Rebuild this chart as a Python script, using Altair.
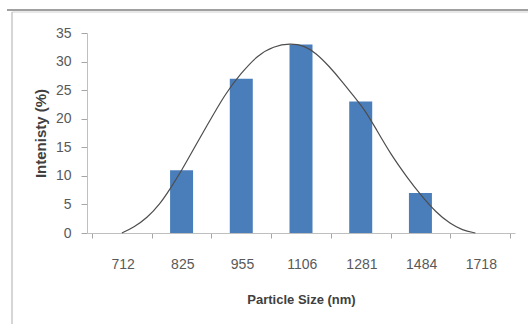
import altair as alt
import pandas as pd

# Particle size classes (nm) and measured intensity (%)
sizes = ["712", "825", "955", "1106", "1281", "1484", "1718"]
intensity = [0, 11, 27, 33, 23, 7, 0]

# Fitted distribution curve, position in class units and intensity (%)
curve_pos = [0.0, 0.2, 0.42, 0.64, 0.8, 1.0, 1.2, 1.4, 1.73, 2.0, 2.27, 2.54, 2.82,
             3.05, 3.25, 3.47, 3.69, 3.91, 4.07, 4.23, 4.5, 4.78, 5.0, 5.27, 5.5,
             5.7, 5.92]
curve_val = [0.0, 1.0, 2.6, 5.1, 7.6, 10.9, 14.7, 18.3, 24.4, 28.0, 31.1, 32.7, 33.2,
             32.8, 31.5, 29.2, 26.5, 23.6, 21.5, 18.7, 13.8, 9.7, 6.7, 3.5, 1.6,
             0.5, 0.0]

# Class boundaries used as tick positions
bounds = [i - 0.5 for i in range(len(sizes) + 1)]
y_ticks = [0, 5, 10, 15, 20, 25, 30, 35]

bars_df = pd.DataFrame({"pos": list(range(len(sizes))), "size": sizes, "intensity": intensity})
curve_df = pd.DataFrame({"pos": curve_pos, "intensity": curve_val})

W, H = 428, 200
step = W / len(sizes)

label_font = "Liberation Sans, sans-serif"
label_list = ",".join("'%s'" % s for s in sizes)

x_scale = alt.Scale(domain=[-0.5, len(sizes) - 0.5], nice=False, zero=False)
y_scale = alt.Scale(domain=[0, 35], nice=False)

x_axis = alt.Axis(
    values=bounds,
    labelExpr="[" + label_list + "][datum.value + 0.5] || ''",
    labelOffset=step / 2,
    labelFlush=False,
    labelOverlap=False,
    labelFont=label_font,
    labelFontSize=14,
    labelColor="#595959",
    labelPadding=19,
    tickSize=5,
    tickColor="#a6a6a6",
    domainColor="#bfbfbf",
    grid=False,
    title="Particle Size (nm)",
    titleFont=label_font,
    titleFontSize=13,
    titleFontWeight="bold",
    titleColor="#404040",
    titleY=66,
    titleBaseline="middle",
)

y_axis = alt.Axis(
    values=y_ticks,
    tickCount=8,
    labelOverlap=False,
    labelFlush=False,
    labelFont=label_font,
    labelFontSize=14,
    labelColor="#595959",
    labelPadding=10,
    tickSize=6,
    tickColor="#a6a6a6",
    domainColor="#bfbfbf",
    grid=False,
    title="Intenisty (%)",
    titleFont=label_font,
    titleFontSize=15,
    titleFontWeight="bold",
    titleColor="#404040",
    titleAngle=-90,
    titleX=-47,
    titleY=H / 2,
    titleAlign="center",
    titleBaseline="middle",
)

bars = alt.Chart(bars_df).mark_bar(size=23, orient="vertical", color="#4A7EBB").encode(
    x=alt.X("pos:Q", scale=x_scale, axis=x_axis),
    y=alt.Y("intensity:Q", scale=y_scale, axis=y_axis),
)

curve = alt.Chart(curve_df).mark_line(
    interpolate="basis", color="#4d4d4d", strokeWidth=1.2
).encode(
    x=alt.X("pos:Q", scale=x_scale, axis=x_axis),
    y=alt.Y("intensity:Q", scale=y_scale, axis=y_axis),
)

# Outer frame of the figure
one = alt.Data(values=[{}])
frame_left = alt.Chart(one).mark_rule(color="#c8c8c8", strokeWidth=1.5).encode(
    x=alt.value(-75), y=alt.value(-21), y2=alt.value(H + 95)
)
frame_top = alt.Chart(one).mark_rule(color="#a0a0a0", strokeWidth=2).encode(
    x=alt.value(-80), x2=alt.value(W + 20), y=alt.value(-23)
)
frame_top_inner = alt.Chart(one).mark_rule(color="#d0d0d0", strokeWidth=1).encode(
    x=alt.value(-75), x2=alt.value(W + 20), y=alt.value(-21)
)

chart = alt.layer(bars, curve, frame_top, frame_top_inner, frame_left).properties(
    width=W,
    height=H,
    padding={"left": 87, "top": 33, "right": 13, "bottom": 91},
    autosize="none",
    background="white",
).configure_view(stroke=None)

chart.save("out.html", embed_options={"renderer": "svg", "actions": False})
